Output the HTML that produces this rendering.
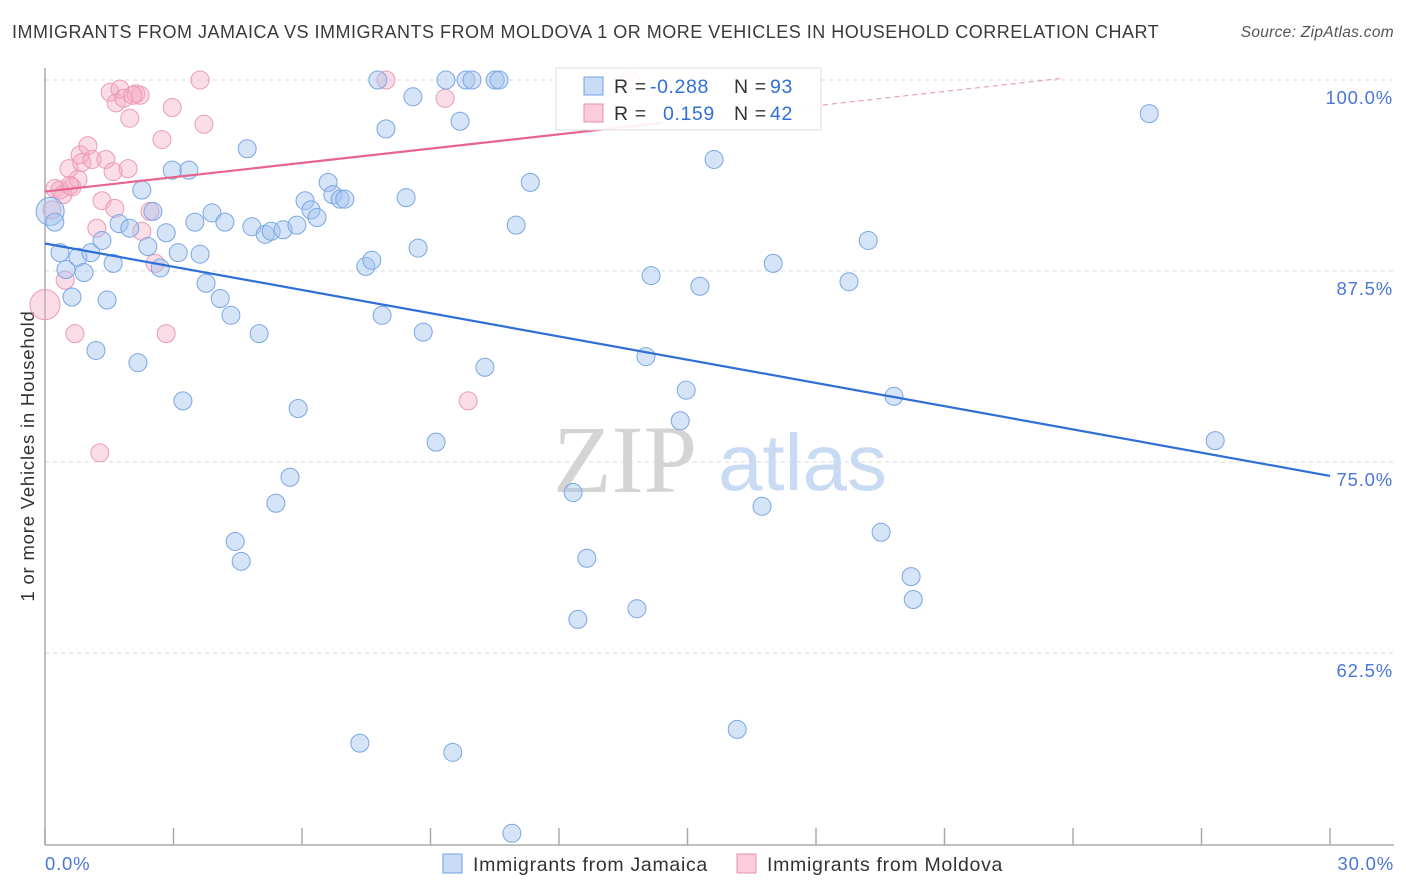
<!DOCTYPE html>
<html><head><meta charset="utf-8">
<style>
body{margin:0;background:#fff;font-family:"Liberation Sans",sans-serif;}
#wrap{position:relative;width:1406px;height:892px;overflow:hidden;}
.t{position:absolute;white-space:nowrap;}
</style></head>
<body>
<div id="wrap">
<div class="t" style="left:12px;top:22px;font-size:18px;letter-spacing:0.5px;color:#3a3a3a;">IMMIGRANTS FROM JAMAICA VS IMMIGRANTS FROM MOLDOVA 1 OR MORE VEHICLES IN HOUSEHOLD CORRELATION CHART</div>
<div class="t" style="right:12px;top:24px;font-size:15.5px;letter-spacing:0.3px;color:#555;font-style:italic;">Source: ZipAtlas.com</div>
<svg id="chart" width="1406" height="892" style="position:absolute;left:0;top:0"></svg>
</div>
<script>
const xTickLabels=["0.0%","30.0%"];
const yTicks=[100,87.5,75,62.5];
const yTickLabels=["100.0%","87.5%","75.0%","62.5%"];
const jamX=[0.12,0.23,0.35,0.49,0.63,0.77,0.91,1.07,1.19,1.33,1.45,1.59,1.73,1.98,2.17,2.26,2.40,2.52,2.69,2.83,2.97,3.11,3.22,3.36,3.50,3.62,3.76,3.90,4.09,4.20,4.34,4.44,4.58,4.72,4.83,5.00,5.14,5.28,5.39,5.56,5.72,5.88,5.91,6.07,6.21,6.35,6.61,6.72,6.89,7.00,7.35,7.49,7.63,7.77,7.87,7.96,8.43,8.59,8.71,8.83,9.13,9.36,9.52,9.69,9.83,9.97,10.27,10.51,10.60,10.90,11.00,11.33,12.33,12.44,12.65,13.82,14.03,14.15,14.83,14.97,15.29,15.62,16.16,16.74,17.00,18.77,19.22,19.52,19.82,20.22,20.27,25.78,27.32];
const jamY=[91.4,90.7,88.7,87.6,85.8,88.4,87.4,88.7,82.3,89.5,85.6,88.0,90.6,90.3,81.5,92.8,89.1,91.4,87.7,90.0,94.1,88.7,79.0,94.1,90.7,88.6,86.7,91.3,85.7,90.7,84.6,69.8,68.5,95.5,90.4,83.4,89.9,90.1,72.3,90.2,74.0,90.5,78.5,92.1,91.5,91.0,93.3,92.5,92.2,92.2,56.6,87.8,88.2,100,84.6,96.8,92.3,98.9,89.0,83.5,76.3,100,56.0,97.3,100,100,81.2,100,100,50.7,90.5,93.3,73.0,64.7,68.7,65.4,81.9,87.2,77.7,79.7,86.5,94.8,57.5,72.1,88.0,86.8,89.5,70.4,79.3,67.5,66.0,97.8,76.4];
const molX=[0,0.16,0.23,0.35,0.47,0.56,0.63,0.70,0.82,0.86,1.00,1.10,1.21,1.28,1.33,1.42,1.52,1.59,1.66,1.75,1.84,1.94,1.98,2.12,2.22,2.26,2.45,2.57,2.73,2.83,2.97,3.62,3.71,7.96,9.34,9.88,13.66,0.77,1.63,0.42,2.05,0.58];
const molY=[85.3,91.5,92.9,92.8,86.9,94.2,93.0,83.4,95.1,94.6,95.7,94.8,90.3,75.6,92.1,94.8,99.2,94.0,98.5,99.4,98.8,94.2,97.5,99.1,99.0,90.1,91.4,88.0,96.1,83.4,98.2,100,97.1,100,98.8,79.0,100,93.5,91.6,92.5,99.0,93.1];
const jamFit=[89.3,-0.507];
const molFit=[92.7,0.312];
const NS="http://www.w3.org/2000/svg";
const svg=document.getElementById('chart');
const X=v=>45+v/30*1285;
const Y=v=>80+(100-v)*15.28;
function mk(tag,attrs,parent){const e=document.createElementNS(NS,tag);for(const k in attrs)e.setAttribute(k,attrs[k]);(parent||svg).appendChild(e);return e;}
yTicks.forEach((t,i)=>{
 const g=mk('line',{x1:45,x2:1394,y1:Y(t),y2:Y(t),stroke:'#d8d8d8','stroke-dasharray':'4,4','stroke-width':1});
 
 
 const l=mk('text',{x:1393,y:Y(t)+24,'text-anchor':'end','font-size':18.5,'letter-spacing':'0.8',fill:'#4a77d6','font-family':'Liberation Sans, sans-serif'});
 l.textContent=yTickLabels[i];
 
 
});
const ax=mk('line',{x1:45,x2:45,y1:68,y2:845,stroke:'#aaa','stroke-width':1.5});


const bx=mk('line',{x1:45,x2:1394,y1:845,y2:845,stroke:'#aaa','stroke-width':1.5});


for(let i=0;i<=10;i++){
 const tk=mk('line',{x1:X(i*3),x2:X(i*3),y1:828,y2:845,stroke:'#aaa','stroke-width':1.5});
 
 
}
[[0,'start',45],[1,'end',1394]].forEach(([i,a,x])=>{
 const t=mk('text',{x:x,y:870,'text-anchor':a,'font-size':18.5,'letter-spacing':'0.8',fill:'#4a77d6','font-family':'Liberation Sans, sans-serif'});
 t.textContent=xTickLabels[i];
 
 
});
const w1=mk('text',{x:553,y:492,'font-size':96,fill:'#d4d4d4','font-family':'Liberation Serif, serif'});
w1.textContent='ZIP';


const w2=mk('text',{x:718,y:490,'font-size':80,fill:'#c9daf3','font-family':'Liberation Sans, sans-serif'});
w2.textContent='atlas';


const yt=mk('text',{x:0,y:0,transform:'translate(34,456) rotate(-90)','text-anchor':'middle','font-size':18.5,'letter-spacing':'0.8',fill:'#333','font-family':'Liberation Sans, sans-serif'});
yt.textContent='1 or more Vehicles in Household';


molX.forEach((x,i)=>{
 const c=mk('circle',{cx:X(x),cy:Y(molY[i]),r:i===0?15:9,fill:'rgba(246,170,196,0.4)',stroke:'#eb9ab6','stroke-width':1});
 
 
});
jamX.forEach((x,i)=>{
 const c=mk('circle',{cx:X(x),cy:Y(jamY[i]),r:i===0?14:9,fill:'rgba(164,196,240,0.45)',stroke:'#7aa6e3','stroke-width':1});
 
 
});
const jl=mk('line',{x1:X(0),y1:Y(jamFit[0]),x2:X(30),y2:Y(jamFit[0]+jamFit[1]*30),stroke:'#2f6fd6','stroke-width':2.2});


const ml=mk('line',{x1:X(0),y1:Y(molFit[0]),x2:X(14.4),y2:Y(molFit[0]+molFit[1]*14.4),stroke:'#e8648f','stroke-width':2.2});


const md=mk('line',{x1:X(14.4),y1:Y(molFit[0]+molFit[1]*14.4),x2:X(23.7),y2:Y(molFit[0]+molFit[1]*23.7),stroke:'#e8a0b8','stroke-width':1.2,'stroke-dasharray':'5,4'});


const lb=mk('rect',{x:556,y:68,width:265,height:62,fill:'rgba(255,255,255,0.9)',stroke:'#ddd'});


[[86,'rgba(164,196,240,0.6)','#6f9fe0','-0.288','93'],[113,'rgba(246,170,196,0.6)','#ea8fae','0.159','42']].forEach(r=>{
 const s=mk('rect',{x:584,y:r[0]-9,width:19,height:18,fill:r[1],stroke:r[2]});
 
 
 const t=mk('text',{x:614,y:r[0]+7,'font-size':19.5,'letter-spacing':'0.6',fill:'#333','font-family':'Liberation Sans, sans-serif'});
 t.innerHTML='R = <tspan fill="#2f6fd6" x="'+(r[3][0]==='-'?650:663)+'">'+r[3]+'</tspan><tspan x="734">N = </tspan><tspan fill="#2f6fd6" x="770">'+r[4]+'</tspan>';
 
 
});
[[443,'rgba(164,196,240,0.6)','#6f9fe0','Immigrants from Jamaica','legend-jamaica'],[737,'rgba(246,170,196,0.6)','#ea8fae','Immigrants from Moldova','legend-moldova']].forEach(r=>{
 const g=mk('g',{});
 
 
 mk('rect',{x:r[0],y:854,width:19,height:19,fill:r[1],stroke:r[2]},g);
 const t=mk('text',{x:r[0]+30,y:871,'font-size':19.5,'letter-spacing':'0.7',fill:'#333','font-family':'Liberation Sans, sans-serif'},g);
 t.textContent=r[3];
});
</script>
</body></html>
